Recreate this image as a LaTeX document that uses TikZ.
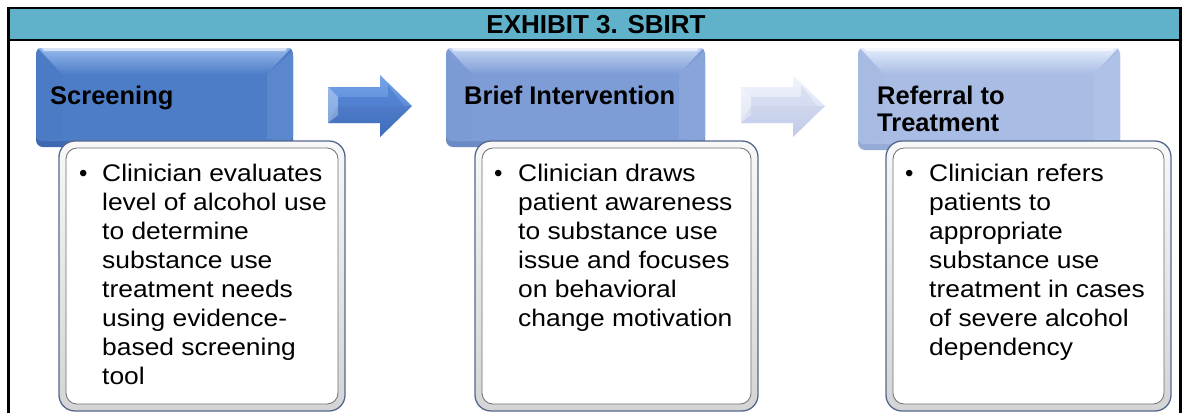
\documentclass[tikz,border=0pt]{standalone}
\usepackage{fontspec}
\setmainfont{Liberation Sans}
\newfontfamily\bodyfont{Liberation Sans}[FakeStretch=1.1]
\definecolor{hdrteal}{RGB}{95,178,202}
\definecolor{bxAm}{RGB}{78,125,200}
\definecolor{bxAl}{RGB}{150,185,235}
\definecolor{bxAd}{RGB}{62,104,178}
\definecolor{bxBm}{RGB}{126,157,214}
\definecolor{bxBl}{RGB}{195,213,242}
\definecolor{bxBd}{RGB}{108,138,196}
\definecolor{bxCm}{RGB}{168,188,228}
\definecolor{bxCl}{RGB}{228,237,252}
\definecolor{bxCd}{RGB}{150,170,214}
\definecolor{arAm}{RGB}{68,118,202}
\definecolor{arAl}{RGB}{120,165,232}
\definecolor{arAd}{RGB}{45,85,160}
\definecolor{arBm}{RGB}{203,212,238}
\definecolor{arBl}{RGB}{243,246,253}
\definecolor{arBd}{RGB}{170,182,220}
\definecolor{frameout}{RGB}{84,104,140}
\definecolor{frameA}{RGB}{248,248,248}
\definecolor{frameB}{RGB}{212,212,212}
\definecolor{frameline}{RGB}{110,110,110}
% heading box with soft chisel bevel: x1 y1 x2 y2 main light dark
\newcommand\bevelbox[7]{%
  \fill[#7,rounded corners=7pt] (#1,#2+2) rectangle (#3,#4);
  \fill[#5,rounded corners=5pt] (#1,#2) rectangle (#3,#4-6);
  \shade[top color=#6,bottom color=#5] (#1+2,#2) -- (#3-2,#2) -- (#3-26,#2+26) -- (#1+26,#2+26) -- cycle;
  \fill[#7,opacity=.08] (#1,#2+3) -- (#1+26,#2+26) -- (#1+26,#4-8) -- (#1,#4-6) -- cycle;
  \fill[white,opacity=.08] (#3,#2+3) -- (#3-26,#2+26) -- (#3-26,#4-8) -- (#3,#4-6) -- cycle;
  \fill[white,opacity=.6] (#1+6,#2) -- (#3-6,#2) -- (#3-8,#2+3) -- (#1+8,#2+3) -- cycle;
}
% block arrow: x main light dark
\newcommand\blockarrow[4]{%
  \shade[top color=#3,bottom color=#2] (#1,87) -- (#1+52,87) -- (#1+52,75) -- (#1+84,106) -- (#1+52,137) -- (#1+52,123) -- (#1,123) -- cycle;
  \fill[#4,opacity=.3] (#1+10,106) -- (#1+84,106) -- (#1+52,137) -- (#1+52,123) -- (#1,123) -- cycle;
  \fill[#2,opacity=.55] (#1+10,97) -- (#1+60,97) -- (#1+60,85) -- (#1+76,106) -- (#1+10,106) -- cycle;
  \fill[white,opacity=.3] (#1,87) -- (#1+10,97) -- (#1+10,115) -- (#1,123) -- cycle;
}
% detail box: x1 y1 x2 y2
\newcommand\detailbox[4]{%
  \shade[top color=frameA,bottom color=frameB,rounded corners=16pt,draw=frameout,line width=1.3pt] (#1,#2) rectangle (#3,#4);
  \draw[fill=white,draw=frameline,line width=.8pt,rounded corners=11pt] (#1+7,#2+7) rectangle (#3-7,#4-7);
}
\begin{document}
\begin{tikzpicture}[x=1pt,y=-1pt,
  titletext/.style={inner sep=0pt,font=\bfseries\fontsize{26}{27}\selectfont},
  headtext/.style={anchor=base west,inner sep=0pt,font=\bfseries\fontsize{25.5}{27}\selectfont},
  bodytext/.style={anchor=base west,inner sep=0pt,font=\bodyfont\fontsize{24}{29}\selectfont},
  bullet/.style={anchor=base west,inner sep=0pt,font=\fontsize{24}{29}\selectfont}]
\useasboundingbox (0,0) rectangle (1182,413);
\fill[white] (0,0) rectangle (1182,413);
% header
\fill[hdrteal] (8,8) rectangle (1180.5,40);
\draw[line width=2.6pt] (8.3,413) -- (8.3,8) -- (1180.7,8) -- (1180.7,413);
\draw[line width=2.6pt] (8,40) -- (1181,40);
\node[titletext] (title) at (596,25) {EXHIBIT 3. SBIRT};
% heading boxes
\bevelbox{36}{48}{293}{147}{bxAm}{bxAl}{bxAd}
\bevelbox{446}{48}{705}{147}{bxBm}{bxBl}{bxBd}
\bevelbox{858}{48}{1120}{150}{bxCm}{bxCl}{bxCd}
% arrows
\blockarrow{328}{arAm}{arAl}{arAd}
\blockarrow{741}{arBm}{arBl}{arBd}
% detail boxes
\detailbox{59}{141}{345}{411}
\detailbox{475}{141}{758}{411}
\detailbox{886}{141}{1171}{411}
% heading texts
\node[headtext] (h1) at (50,104) {Screening};
\node[headtext] (h2) at (464,104) {Brief Intervention};
\node[headtext] (h3) at (877,104) {\parbox[t]{230pt}{\baselineskip=27pt Referral to\\Treatment}};
% body texts
\node[bullet] (b1) at (79,181) {•};
\node[bodytext] (t1) at (102,181) {\parbox[t]{240pt}{\raggedright Clinician evaluates\\level of alcohol use\\to determine\\substance use\\treatment needs\\using evidence-\\based screening\\tool}};
\node[bullet] (b2) at (494,181) {•};
\node[bodytext] (t2) at (518,181) {\parbox[t]{240pt}{\raggedright Clinician draws\\patient awareness\\to substance use\\issue and focuses\\on behavioral\\change motivation}};
\node[bullet] (b3) at (905,181) {•};
\node[bodytext] (t3) at (929,181) {\parbox[t]{240pt}{\raggedright Clinician refers\\patients to\\appropriate\\substance use\\treatment in cases\\of severe alcohol\\dependency}};
\end{tikzpicture}
\end{document}
